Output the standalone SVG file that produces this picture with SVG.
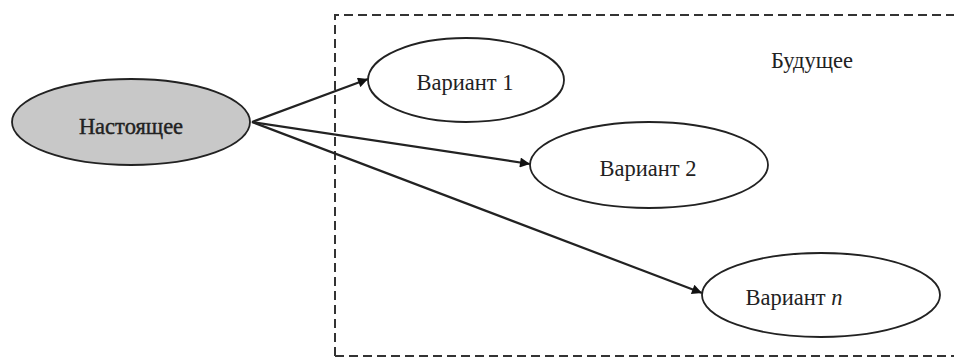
<svg xmlns="http://www.w3.org/2000/svg" width="954" height="358" viewBox="0 0 954 358">
<defs>
<style>
.node{fill:#fff;stroke:#222;stroke-width:1.8}
.now{fill:#c8c8c8}
.lbl{font-family:"Liberation Serif","DejaVu Serif",serif;font-size:22.5px;fill:#222;text-anchor:middle;dominant-baseline:central}
.edge{stroke:#222;stroke-width:2.2;fill:none;marker-end:url(#ah)}
.frame{fill:none;stroke:#333;stroke-width:2;stroke-dasharray:9 5}
</style>
<marker id="ah" viewBox="0 0 10 10" refX="10" refY="5" markerWidth="12" markerHeight="10" markerUnits="userSpaceOnUse" orient="auto"><path d="M0,0 L10,5 L0,10 z" fill="#111"/></marker>
</defs>
<rect width="954" height="358" fill="#fff"/>
<g id="future-frame">
<path class="frame" d="M335,356 L335,15 L960,15 M335,356 L960,356"/>
<text class="lbl" x="812" y="60">Будущее</text>
</g>
<g id="connectors">
<line class="edge" x1="252" y1="122" x2="368" y2="79"/>
<line class="edge" x1="252" y1="122" x2="530" y2="164"/>
<line class="edge" x1="252" y1="122" x2="702" y2="293"/>
</g>
<g id="now">
<ellipse class="node now" cx="131" cy="122" rx="119" ry="43"/>
<text class="lbl" x="131" y="126" font-size="25" stroke="#222" stroke-width="0.4">Настоящее</text>
</g>
<g id="v1">
<ellipse class="node" cx="466" cy="80" rx="98" ry="42"/>
<text class="lbl" x="465" y="82">Вариант 1</text>
</g>
<g id="v2">
<ellipse class="node" cx="649" cy="165" rx="119" ry="43"/>
<text class="lbl" x="648" y="168">Вариант 2</text>
</g>
<g id="vn">
<ellipse class="node" cx="821" cy="295" rx="119" ry="42"/>
<text class="lbl" x="794" y="297">Вариант <tspan font-style="italic">n</tspan></text>
</g>
</svg>
